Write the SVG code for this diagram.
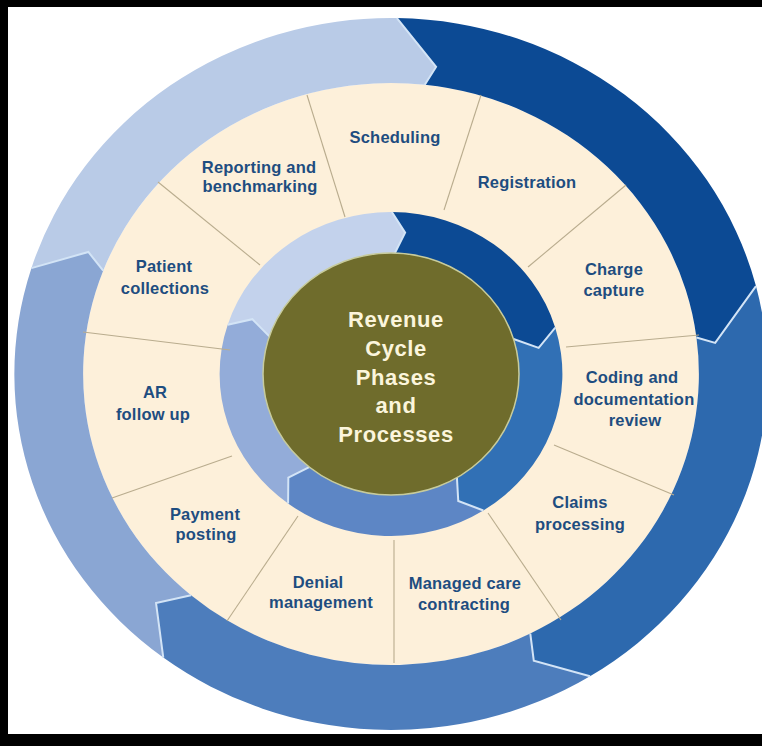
<svg xmlns="http://www.w3.org/2000/svg" width="762" height="746" viewBox="0 0 762 746">
<style>
.lbl{font-family:"Liberation Sans",Arial,sans-serif;font-weight:bold;font-size:16.5px;fill:#1e4d80;text-anchor:middle;letter-spacing:0.2px}
.ctr{font-family:"Liberation Sans",Arial,sans-serif;font-weight:bold;font-size:22px;fill:#fbf5dc;text-anchor:middle;letter-spacing:0.6px}
.edge{fill:none;stroke:#d3e4f6;stroke-width:2;stroke-linejoin:miter;vector-effect:non-scaling-stroke}
.spoke{stroke:#b9ac8e;stroke-width:1.1;fill:none}
</style>
<rect width="762" height="746" fill="#ffffff"/>
<g id="wheel" transform="translate(391,374) scale(1.058,1)">
  <circle id="band" r="291" fill="#fdf0da"/>
  <g id="outer-ring">
    <path id="outer-a" fill="#b9cbe7" d="M-339.89,-105.87 A356,356 0 0 1 5.59,-355.96 L42.61,-307.06 L31.93,-289.24 A291,291 0 0 0 -272.03,-103.34 L-286.06,-122.02 Z"/>
    <path id="outer-b" fill="#0c4a94" d="M5.59,-355.96 A356,356 0 0 1 344.97,-87.93 L306.42,-31.13 L288.71,-36.47 A291,291 0 0 0 31.93,-289.24 L42.61,-307.06 Z"/>
    <path id="outer-c" fill="#2d69ae" d="M344.97,-87.93 A356,356 0 0 1 188.12,302.23 L134.97,286.83 L131.66,259.51 A291,291 0 0 0 288.71,-36.47 L306.42,-31.13 Z"/>
    <path id="outer-d" fill="#4d7dbc" d="M188.12,302.23 A356,356 0 0 1 -215.24,283.56 L-222.07,229.01 L-188.99,221.28 A291,291 0 0 0 131.66,259.51 L134.97,286.83 Z"/>
    <path id="outer-e" fill="#8aa6d3" d="M-215.24,283.56 A356,356 0 0 1 -339.89,-105.87 L-286.06,-122.02 L-272.03,-103.34 A291,291 0 0 0 -188.99,221.28 L-222.07,229.01 Z"/>
    <polyline class="edge" points="5.59,-355.96 42.61,-307.06 31.93,-289.24"/>
    <polyline class="edge" points="344.97,-87.93 306.42,-31.13 288.71,-36.47"/>
    <polyline class="edge" points="188.12,302.23 134.97,286.83 131.66,259.51"/>
    <polyline class="edge" points="-215.24,283.56 -222.07,229.01 -188.99,221.28"/>
    <polyline class="edge" points="-339.89,-105.87 -286.06,-122.02 -272.03,-103.34"/>
  </g>
  <g id="inner-ring">
    <path id="inner-a" fill="#c3d2ec" d="M-154.33,-49.25 A162,162 0 0 1 0.85,-162 L13.36,-141.37 L3.70,-120.94 A121,121 0 0 0 -115.01,-37.59 L-131.00,-54.80 Z"/>
    <path id="inner-b" fill="#0c4a94" d="M0.85,-162 A162,162 0 0 1 155.25,-46.28 L139.58,-26.12 L115.84,-34.97 A121,121 0 0 0 3.70,-120.94 L13.36,-141.37 Z"/>
    <path id="inner-c" fill="#3170b5" d="M155.25,-46.28 A162,162 0 0 1 87.28,136.48 L63.58,126.97 L62.32,103.72 A121,121 0 0 0 115.84,-34.97 L139.58,-26.12 Z"/>
    <path id="inner-d" fill="#5d86c5" d="M87.28,136.48 A162,162 0 0 1 -97.27,129.55 L-97.03,103.68 L-77.29,93.10 A121,121 0 0 0 62.32,103.72 L63.58,126.97 Z"/>
    <path id="inner-e" fill="#93acd9" d="M-97.27,129.55 A162,162 0 0 1 -154.33,-49.25 L-131.00,-54.80 L-115.01,-37.59 A121,121 0 0 0 -77.29,93.10 L-97.03,103.68 Z"/>
    <polyline class="edge" points="0.85,-162 13.36,-141.37 3.70,-120.94"/>
    <polyline class="edge" points="155.25,-46.28 139.58,-26.12 115.84,-34.97"/>
    <polyline class="edge" points="87.28,136.48 63.58,126.97 62.32,103.72"/>
    <polyline class="edge" points="-97.27,129.55 -97.03,103.68 -77.29,93.10"/>
    <polyline class="edge" points="-154.33,-49.25 -131.00,-54.80 -115.01,-37.59"/>
  </g>
</g>
<g id="spokes">
  <line class="spoke" x1="307" y1="95" x2="345" y2="217"/>
  <line class="spoke" x1="481" y1="95" x2="444" y2="210"/>
  <line class="spoke" x1="626" y1="185" x2="528" y2="267"/>
  <line class="spoke" x1="699" y1="335" x2="566" y2="347"/>
  <line class="spoke" x1="674" y1="495" x2="554" y2="445"/>
  <line class="spoke" x1="561" y1="620" x2="488" y2="513"/>
  <line class="spoke" x1="394" y1="663" x2="394" y2="540"/>
  <line class="spoke" x1="227" y1="621" x2="298" y2="516"/>
  <line class="spoke" x1="112" y1="498" x2="232" y2="456"/>
  <line class="spoke" x1="83" y1="332" x2="230" y2="350"/>
  <line class="spoke" x1="158" y1="182" x2="260" y2="265"/>
</g>
<g id="center">
  <ellipse cx="391" cy="374" rx="128" ry="121" fill="#6f6c2c" stroke="#c7cb9c" stroke-width="1.5"/>
  <text class="ctr" x="396" y="327">Revenue</text>
  <text class="ctr" x="396" y="356">Cycle</text>
  <text class="ctr" x="396" y="385">Phases</text>
  <text class="ctr" x="396" y="413">and</text>
  <text class="ctr" x="396" y="442">Processes</text>
</g>
<g id="scheduling"><text class="lbl" x="395" y="143">Scheduling</text></g>
<g id="registration"><text class="lbl" x="527" y="188">Registration</text></g>
<g id="charge-capture"><text class="lbl" x="614" y="275">Charge</text><text class="lbl" x="614" y="296">capture</text></g>
<g id="coding"><text class="lbl" x="632" y="383">Coding and</text><text class="lbl" x="634" y="405">documentation</text><text class="lbl" x="635" y="426">review</text></g>
<g id="claims"><text class="lbl" x="580" y="508">Claims</text><text class="lbl" x="580" y="530">processing</text></g>
<g id="managed-care"><text class="lbl" x="465" y="589">Managed care</text><text class="lbl" x="464" y="610">contracting</text></g>
<g id="denial"><text class="lbl" x="318" y="588">Denial</text><text class="lbl" x="321" y="608">management</text></g>
<g id="payment"><text class="lbl" x="205" y="520">Payment</text><text class="lbl" x="206" y="540">posting</text></g>
<g id="ar"><text class="lbl" x="155" y="398">AR</text><text class="lbl" x="153" y="420">follow up</text></g>
<g id="patient"><text class="lbl" x="164" y="272">Patient</text><text class="lbl" x="165" y="294">collections</text></g>
<g id="reporting"><text class="lbl" x="259" y="173">Reporting and</text><text class="lbl" x="260" y="192">benchmarking</text></g>
<g id="frame" fill="#000000">
  <rect x="0" y="0" width="762" height="7"/>
  <rect x="0" y="0" width="8" height="746"/>
  <rect x="0" y="734" width="762" height="12"/>
</g>
</svg>
